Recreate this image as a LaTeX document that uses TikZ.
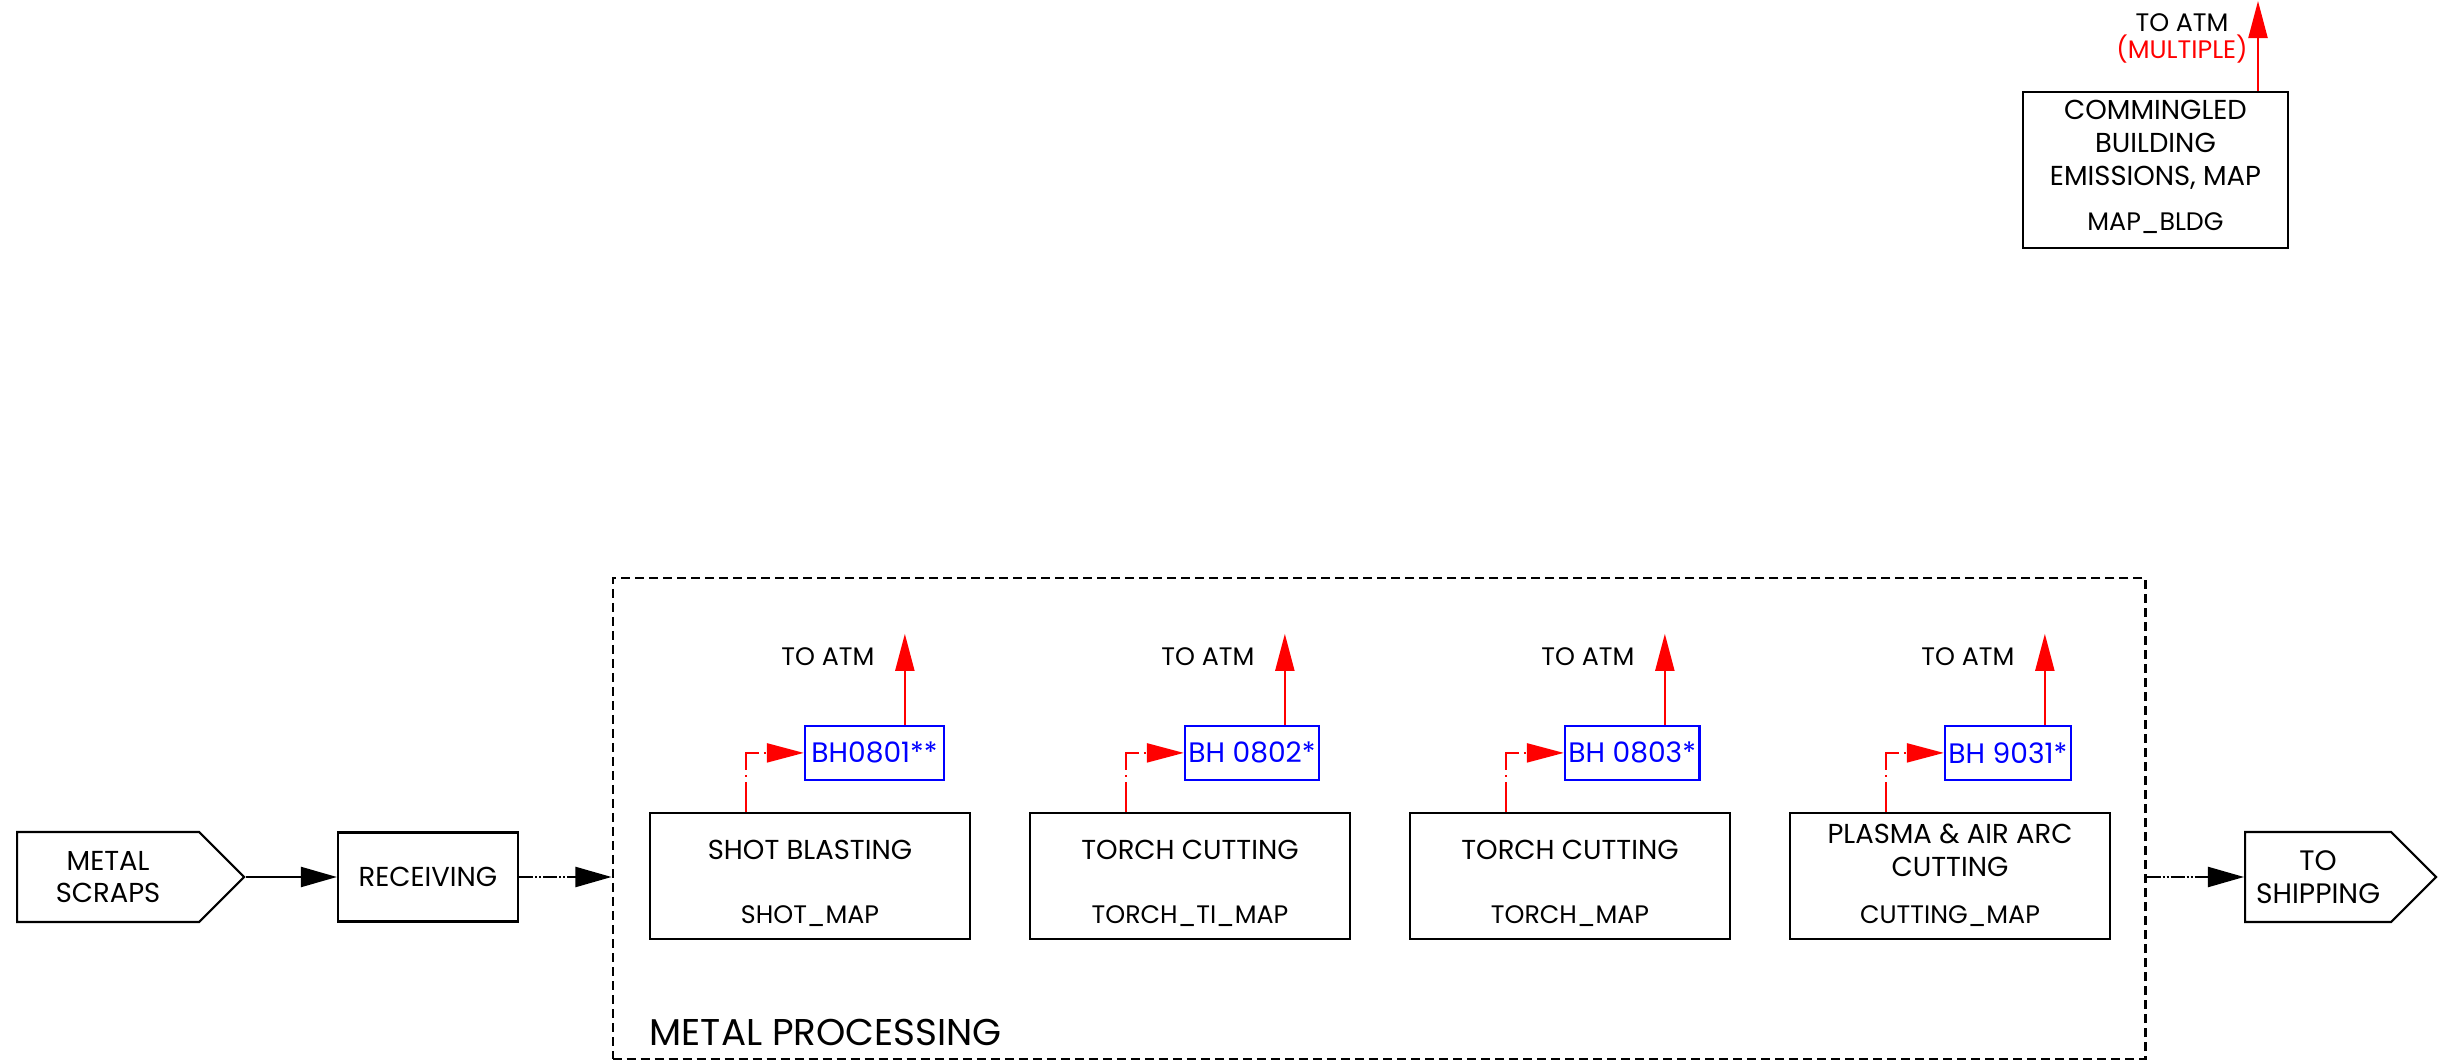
\documentclass[tikz,border=0pt]{standalone}
\usepackage{fontspec}
\setmainfont{Poppins}
\usepackage{tikz}
\usetikzlibrary{calc,arrows.meta,shapes,positioning}
\tikzset{
    process/.style={
    rectangle,draw=black,line width=0.6pt,minimum width=3.2cm,minimum height=1.26cm
    },
    terminal/.style={
    signal,signal to=east,signal pointer angle=90,draw=black,line width=0.6pt,
    minimum height=0.9cm,align=center,inner sep=0pt,font=\fontsize{7.8}{9.2}\selectfont
    },
    group/.style={
    rectangle,draw=black,line width=0.6pt,dash pattern=on 0.09cm off 0.05cm,
    minimum width=15.32cm,minimum height=4.81cm
    },
    baghouse/.style={
    rectangle,draw=blue,text=blue,line width=0.6pt,minimum height=0.54cm,inner sep=1pt,
    font=\fontsize{8}{9}\selectfont
    },
    title/.style={align=center,inner sep=0pt,font=\fontsize{7.8}{9.4}\selectfont},
    subtitle/.style={inner sep=0pt,font=\fontsize{7.2}{8.6}\selectfont},
    atm/.style={inner sep=0pt,font=\fontsize{7.2}{8.6}\selectfont},
    flow/.style={-{Triangle[length=0.36cm,width=0.2cm]},line width=0.6pt},
    bulk/.style={flow,dash pattern=on 0.14cm off 0.02cm on 0.02cm off 0.02cm on 0.02cm off 0.02cm},
    vent/.style={-{Triangle[length=0.37cm,width=0.19cm]},red,line width=0.6pt},
    capture/.style={vent,dash pattern=on 0.3cm off 0.05cm on 0.02cm off 0.05cm},
}

\begin{document}
\begin{tikzpicture}[x=0.01cm,y=-0.01cm]
   \useasboundingbox (0,0) rectangle (2438,1061);

   % feed, receiving and shipping
   \node[terminal,anchor=west,minimum width=2.27cm] (SCRAP) at (16,877) {METAL\\SCRAPS};
   \node[process,minimum width=1.8cm,minimum height=0.89cm,font=\fontsize{7.8}{9.2}\selectfont] (RECV) at (428,877) {RECEIVING};
   \node[terminal,anchor=west,minimum width=1.91cm,font=\fontsize{8}{9.4}\selectfont] (SHIP) at (2244,877) {TO\\SHIPPING};

   % metal processing area
   \node[group] (MP) at (1379,818.5) {};
   \node[anchor=west,inner sep=0pt,font=\fontsize{10.6}{12}\selectfont] (MPt) at (649,1032) {METAL PROCESSING};

   \node[process] (SHOT)  at (810,876)  {};
   \node[process] (TORTI) at (1190,876) {};
   \node[process] (TORCH) at (1570,876) {};
   \node[process] (CUT)   at (1950,876) {};

   \node[title] (SHOTt)  at ($(SHOT.center)+(0,-26)$)  {SHOT BLASTING};
   \node[title] (TORTIt) at ($(TORTI.center)+(0,-26)$) {TORCH CUTTING};
   \node[title] (TORCHt) at ($(TORCH.center)+(0,-26)$) {TORCH CUTTING};
   \node[title] (CUTt)   at ($(CUT.center)+(0,-26)$)   {PLASMA \& AIR ARC\\CUTTING};

   \node[subtitle] (SHOTs)  at ($(SHOT.south)+(0,-24)$)  {SHOT\_MAP};
   \node[subtitle] (TORTIs) at ($(TORTI.south)+(0,-24)$) {TORCH\_TI\_MAP};
   \node[subtitle] (TORCHs) at ($(TORCH.south)+(0,-24)$) {TORCH\_MAP};
   \node[subtitle] (CUTs)   at ($(CUT.south)+(0,-24)$)   {CUTTING\_MAP};

   % baghouses
   \node[baghouse,anchor=west,minimum width=1.39cm] (BH1) at ($(SHOT.north west)+(155,-59)$)  {BH0801**};
   \node[baghouse,anchor=west,minimum width=1.25cm] (BH2) at ($(TORTI.north west)+(155,-59)$) {BH 0802*};
   \node[baghouse,anchor=west,minimum width=1.25cm] (BH3) at ($(TORCH.north west)+(155,-59)$) {BH 0803*};
   \node[baghouse,anchor=west,minimum width=1.25cm] (BH4) at ($(CUT.north west)+(155,-59)$)   {BH 9031*};

   \node[atm] (ATM1t) at ($(SHOT.north west)+(179,-155)$)  {TO ATM};
   \node[atm] (ATM2t) at ($(TORTI.north west)+(179,-155)$) {TO ATM};
   \node[atm] (ATM3t) at ($(TORCH.north west)+(179,-155)$) {TO ATM};
   \node[atm] (ATM4t) at ($(CUT.north west)+(179,-155)$)   {TO ATM};

   \coordinate (ATM1) at ($(BH1.north west)+(101,-91)$);
   \coordinate (ATM2) at ($(BH2.north west)+(101,-91)$);
   \coordinate (ATM3) at ($(BH3.north west)+(101,-91)$);
   \coordinate (ATM4) at ($(BH4.north west)+(101,-91)$);

   % building emissions
   \node[process,minimum width=2.65cm,minimum height=1.56cm] (BLDG) at (2155.5,170) {};
   \node[title] (BLDGt) at ($(BLDG.center)+(0,-25)$) {COMMINGLED\\BUILDING\\EMISSIONS, MAP};
   \node[subtitle] (BLDGs) at ($(BLDG.south)+(0,-26)$) {MAP\_BLDG};
   \node[atm,align=center,font=\fontsize{7.2}{7.7}\selectfont] (ATM0t) at (2182,38) {TO ATM\\\textcolor{red}{(MULTIPLE)}};
   \coordinate (ATM0) at (2258,1);

   % connections
   \path (SCRAP.east) edge [flow] (RECV.west);
   \draw[bulk] (RECV.east) -- (RECV.east -| MP.west);
   \draw[bulk] (MP.east |- SHIP.west) -- (SHIP.west);

   \draw[capture] ($(SHOT.north west)+(97,0)$)  |- (BH1.west);
   \draw[capture] ($(TORTI.north west)+(97,0)$) |- (BH2.west);
   \draw[capture] ($(TORCH.north west)+(97,0)$) |- (BH3.west);
   \draw[capture] ($(CUT.north west)+(97,0)$)   |- (BH4.west);

   \draw[vent] ($(BH1.north west)+(101,0)$) -- (ATM1);
   \draw[vent] ($(BH2.north west)+(101,0)$) -- (ATM2);
   \draw[vent] ($(BH3.north west)+(101,0)$) -- (ATM3);
   \draw[vent] ($(BH4.north west)+(101,0)$) -- (ATM4);
   \draw[vent] (BLDG.north -| ATM0) -- (ATM0);
\end{tikzpicture}
\end{document}
